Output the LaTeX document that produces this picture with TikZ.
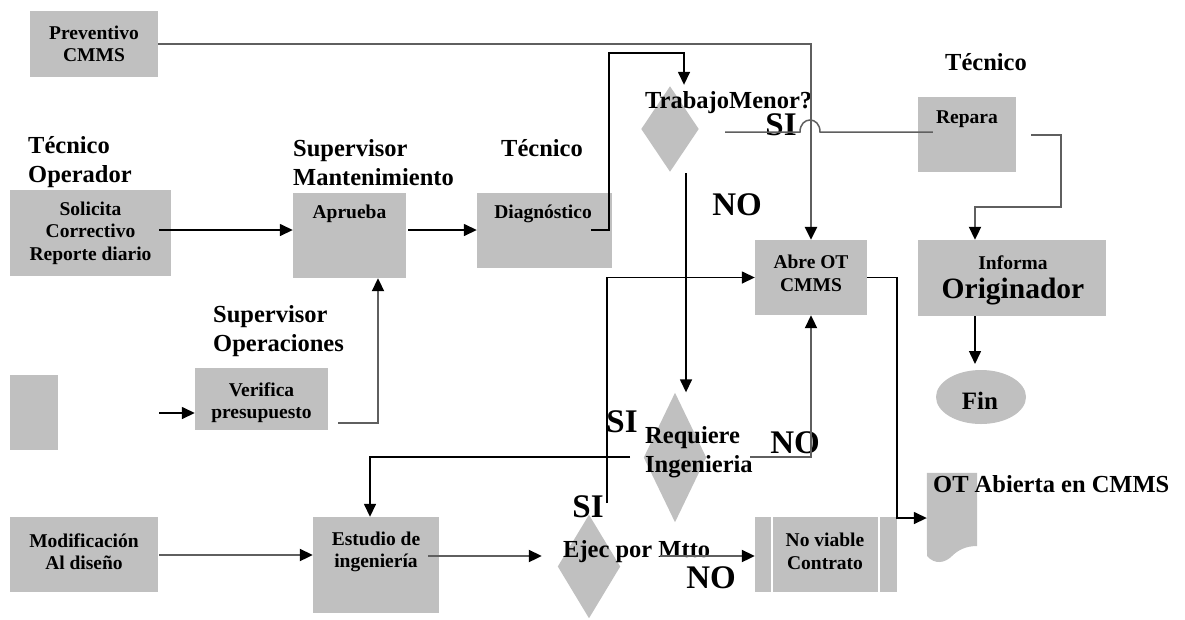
\documentclass[tikz,border=0pt]{standalone}
\usepackage{fontspec}
\setmainfont{Liberation Serif}
\usetikzlibrary{arrows.meta,calc,shapes.geometric}
\definecolor{boxgray}{RGB}{192,192,192}
\definecolor{linegray}{RGB}{95,95,95}
\tikzset{
  gbox/.style={fill=boxgray, draw=none, inner sep=0pt},
  btxt/.style={font=\fontsize{19.5}{22.5}\selectfont\bfseries, align=center, inner sep=0pt},
  lab/.style={font=\fontsize{24.5}{29}\selectfont\bfseries, align=left, inner sep=0pt},
  bigt/.style={font=\fontsize{33}{36}\selectfont\bfseries, inner sep=0pt},
  ln/.style={line width=1.5pt, draw=black},
  gln/.style={line width=2pt, draw=linegray},
  arr/.style={-{Triangle[length=13pt,width=12pt,color=black]}},
  shp/.style={draw=none, inner sep=0pt, rectangle}
}
\begin{document}
\begin{tikzpicture}[x=1pt,y=-1pt]
\path[fill=white,use as bounding box] (0,0) rectangle (1185,619);

% ---------- boxes ----------
\node[gbox, btxt, minimum width=128, minimum height=66] (prev) at (94,44) {Preventivo\\CMMS};
\node[gbox, btxt, minimum width=161, minimum height=86] (sol) at (90.5,233) {Solicita\\Correctivo\\Reporte diario};
\node[gbox, minimum width=113, minimum height=85] (apr) at (349.5,235.5) {};
\node[btxt] (aprT) at (349.5,214) {Aprueba};
\node[gbox, minimum width=135, minimum height=75] (diag) at (544.5,230.5) {};
\node[btxt] (diagT) at (543,214) {Diagnóstico};
\node[gbox, minimum width=112, minimum height=75] (abre) at (811,277.5) {};
\node[btxt] (abreT) at (811,273.5) {Abre OT\\CMMS};
\node[gbox, minimum width=98, minimum height=75] (rep) at (967,134.5) {};
\node[btxt] (repT) at (967,119) {Repara};
\node[gbox, minimum width=188, minimum height=76] (inf) at (1012,278) {};
\node[btxt] (infT) at (1013,263) {Informa};
\node[font=\fontsize{29.5}{32}\selectfont\bfseries, inner sep=0pt] (infO) at (1013,292) {Originador};
\node[gbox, ellipse, minimum width=90, minimum height=54] (fin) at (981,397) {};
\node[font=\fontsize{25}{28}\selectfont\bfseries, inner sep=0pt] (finT) at (980,401) {Fin};
\node[gbox, minimum width=48, minimum height=75] (small) at (34,412.5) {};
\node[gbox, minimum width=133, minimum height=62] (ver) at (261.5,399) {};
\node[btxt] (verT) at (261.5,402.5) {Verifica\\presupuesto};
\node[gbox, minimum width=148, minimum height=75] (mod) at (84,554.5) {};
\node[btxt] (modT) at (84,551.5) {Modificación\\Al diseño};
\node[gbox, minimum width=126, minimum height=96] (est) at (376,565) {};
\node[btxt] (estT) at (376,552) {Estudio de\\ingeniería};
\node[gbox, minimum width=142, minimum height=75] (nov) at (826,554.5) {};
\draw[white, line width=1.5pt] (772,517) -- (772,592) (879,517) -- (879,592);
\node[btxt] (novT) at (825,551.5) {No viable\\Contrato};

% ---------- diamonds ----------
\node[shp, minimum width=57, minimum height=85] (d1) at (670,129) {};
\fill[boxgray] (d1.north) -- (d1.east) -- (d1.south) -- (d1.west) -- cycle;
\node[shp, minimum width=62, minimum height=129] (d2) at (675,457.5) {};
\fill[boxgray] (d2.north) -- (d2.east) -- (d2.south) -- (d2.west) -- cycle;
\node[shp, minimum width=62, minimum height=103] (d3) at (589,566.5) {};
\fill[boxgray] (d3.north) -- (d3.east) -- (d3.south) -- (d3.west) -- cycle;

% ---------- document ----------
\node[shp, minimum width=50, minimum height=80] (doc) at (952,513) {};
\fill[boxgray] (doc.north west) -- (doc.north east) -- (977,546)
  .. controls (966,546) and (958,550) .. (952,556)
  .. controls (945,563) and (935,565) .. (927,556) -- cycle;

% ---------- labels ----------
\node[lab, anchor=west] (l1) at (28,162.5) {Técnico\\Operador};
\node[lab, anchor=west] (l2) at (293,162.5) {Supervisor\\Mantenimiento};
\node[lab] (l3) at (542,148) {Técnico};
\node[lab] (l4) at (986,62) {Técnico};
\node[lab, anchor=west] (l5) at (213,331.5) {Supervisor\\Operaciones};
\node[lab, anchor=west] (tm) at (645,103) {TrabajoMenor?};
\node[lab, anchor=west] (req) at (645,452.5) {Requiere\\Ingenieria};
\node[lab, anchor=west] (ejec) at (563,552) {Ejec por Mtto};
\node[lab, anchor=west] (otl) at (933,484) {OT Abierta en CMMS};
\node[bigt] (si1) at (781,125) {SI};
\node[bigt] (si2) at (622,422) {SI};
\node[bigt] (si3) at (588,507) {SI};
\node[bigt] (no1) at (737,205) {NO};
\node[bigt] (no2) at (795,443) {NO};
\node[bigt] (no3) at (711,578) {NO};

% ---------- free ends ----------
\coordinate (c1) at (159,230);
\coordinate (c2) at (408,230);
\coordinate (c3) at (591,230);
\coordinate (c4) at ($(d1.north)+(14,-1.5)$);
\coordinate (c5) at (725,132);
\coordinate (c6) at (1031,135);
\coordinate (c7) at (975,364);
\coordinate (c8) at ($(d1.south)+(16,1.5)$);
\coordinate (c9) at ($(d2.north)+(11,-0.5)$);
\coordinate (c10) at (607,503);
\coordinate (c11) at (750,457);
\coordinate (c12) at (630,457);
\coordinate (c13) at (338,423);
\coordinate (c14) at (159,413);
\coordinate (c15) at (159,555);
\coordinate (c16) at (428,556);
\coordinate (c17) at ($(d3.west)+(-16,-10.5)$);
\coordinate (c18) at (660,556);

% ---------- connectors ----------
\draw[gln, line width=2.5pt, arr] (prev.east) -| (abre.north);
\draw[ln, arr] (c1) -- (c1 -| apr.west);
\draw[ln, arr] (c2) -- (c2 -| diag.west);
\draw[ln, arr] (c3) -- (609,230) -- (609,53) -| (c4);
\draw[gln, line width=1.5pt] (c5) -- (800,132) .. controls (800,116) and (820,116) .. (820,132) -- ($(rep.west)+(15,-2.5)$);
\draw[gln, arr] (c6) -- (1061,135) -- (1061,207) -| ($(inf.north)+(-37,0)$);
\draw[ln, arr] ($(inf.south)+(-37,0)$) -- (c7);
\draw[ln, arr] (c8) -- (c9);
\draw[ln, arr] (abre.east) -- (897,277.5) -- (897,518) -- ($(doc.west)+(0,5)$);
\draw[ln, arr] (c10) |- (abre.west);
\draw[gln, arr] (c11) -| (abre.south);
\draw[ln, arr] (c12) -| ($(est.north)+(-6,0)$);
\draw[gln, arr] (c13) -| ($(apr.south)+(28.5,0)$);
\draw[ln, arr] (c14) -- ($(ver.west)+(0,14)$);
\draw[gln, arr] (c15) -- (c15 -| est.west);
\draw[gln, arr] (c16) -- (c17);
\draw[gln, arr] (c18) -- (c18 -| nov.west);
\end{tikzpicture}
\end{document}
